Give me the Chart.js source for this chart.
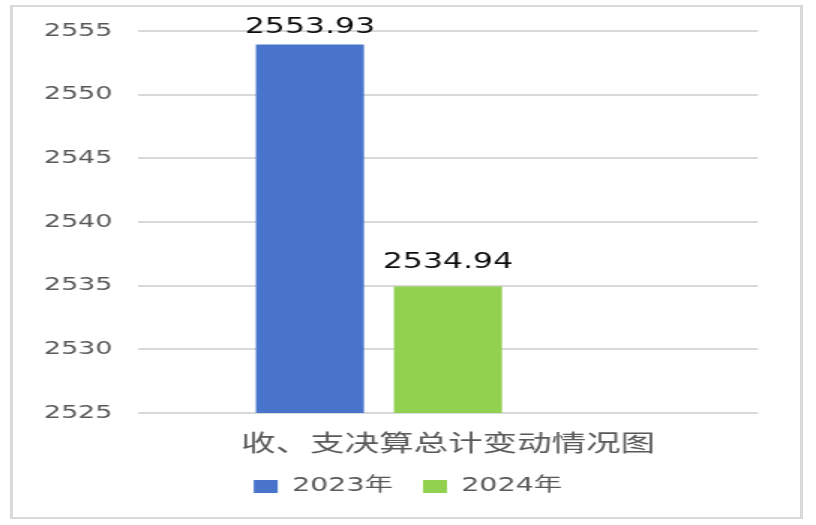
<!DOCTYPE html>
<html>
<head>
<meta charset="utf-8">
<script src="https://cdn.jsdelivr.net/npm/chart.js@4/dist/chart.umd.min.js"></script>
<style>
  body { margin: 0; background: #fff; }
  #wrap { position: relative; width: 816px; height: 525px; }
  #frame {
    position: absolute; left: 10px; top: 5px; width: 793px; height: 514px;
    box-sizing: border-box; border-style: solid; border-color: #d9d9d9;
    border-width: 2px 3px;
  }
</style>
</head>
<body>
<div id="wrap">
  <div id="frame"></div>
  <!-- the reference is stretched sideways, so draw narrow and widen with css -->
  <canvas id="chart" width="544" height="525" style="position:absolute;left:0;top:0;width:816px;height:525px"></canvas>
</div>
<script>
const categories = ['收、支决算总计变动情况图'];
const seriesNames = ['2023年', '2024年'];
const values2023 = [2553.93];
const values2024 = [2534.94];
const yTicks = [2525, 2530, 2535, 2540, 2545, 2550, 2555];

const tickColor = '#595959';
const numFont = 'DejaVu Sans';
const cjkFont = '"Noto Sans CJK SC"';
const legendFont = '"DejaVu Sans", "Noto Sans CJK SC"';

// draws the value above each visible bar
const valueLabels = {
    id: 'valueLabels',
    afterDatasetsDraw(chart) {
        const ctx = chart.ctx;
        ctx.save();
        ctx.font = `21px ${numFont}`;
        ctx.fillStyle = '#0d0d0d';
        ctx.textAlign = 'center';
        ctx.textBaseline = 'alphabetic';
        chart.data.datasets.forEach((ds, i) => {
            const meta = chart.getDatasetMeta(i);
            meta.data.forEach((bar, j) => {
                const v = ds.data[j];
                if (v == null) return;
                const y = Math.max(bar.y - 18, chart.chartArea.top + 2);
                ctx.fillText(v.toFixed(2), bar.x, y);
            });
        });
        ctx.restore();
    }
};

new Chart(document.getElementById('chart'), {
    type: 'bar',
    data: {
        labels: categories,
        datasets: [
            { label: seriesNames[0], data: values2023, backgroundColor: '#4874CB' },
            { label: seriesNames[1], data: values2024, backgroundColor: '#92D050' },
            { label: '', data: [null], backgroundColor: 'transparent' }
        ]
    },
    options: {
        responsive: false,
        devicePixelRatio: 1,
        animation: false,
        categoryPercentage: 0.668,
        barPercentage: 0.783,
        layout: { padding: { top: 31, right: 0, left: 0, bottom: 19 } },
        plugins: {
            legend: {
                position: 'bottom',
                labels: {
                    filter: item => item.text !== '',
                    boxWidth: 16,
                    boxHeight: 13,
                    padding: 20,
                    color: tickColor,
                    font: { family: legendFont, size: 19 }
                }
            },
            tooltip: { enabled: false }
        },
        scales: {
            x: {
                grid: { display: false },
                border: { display: false },
                ticks: { color: tickColor, padding: 7, font: { family: cjkFont, size: 23 } },
                afterFit: s => { s.height = 44; }
            },
            y: {
                min: yTicks[0],
                max: yTicks[yTicks.length - 1],
                afterBuildTicks: s => { s.ticks = yTicks.map(v => ({ value: v })); },
                grid: { color: '#d9d9d9', lineWidth: 2, drawTicks: false },
                border: { display: false },
                ticks: {
                    color: tickColor, padding: 17,
                    font: { family: numFont, size: 18 },
                    callback: v => String(v)
                },
                afterFit: s => { s.width = 92; }
            },
            // empty space on the right of the plot
            yRight: {
                position: 'right',
                grid: { display: false },
                border: { display: false },
                ticks: { display: false },
                afterFit: s => { s.width = 38.7; }
            }
        }
    },
    plugins: [valueLabels]
});
</script>
</body>
</html>
